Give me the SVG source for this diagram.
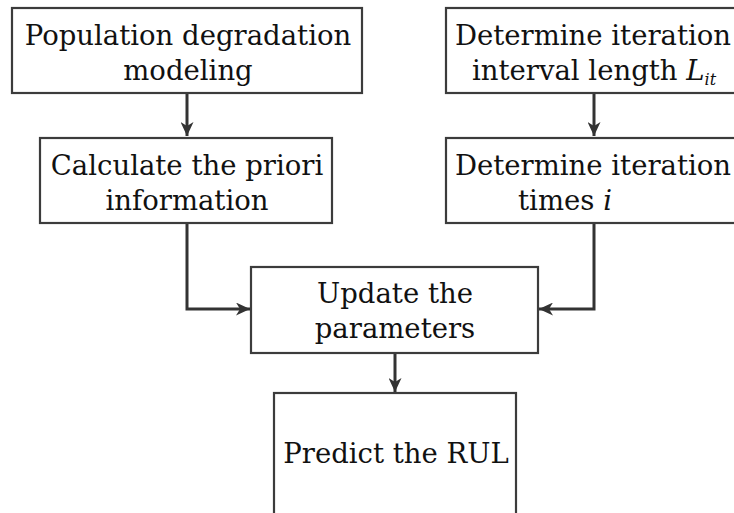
<svg xmlns="http://www.w3.org/2000/svg" width="734" height="513" viewBox="0 0 734 513">
  <style>
    .box { fill: #ffffff; stroke: #3c3c3c; stroke-width: 2.2; }
    .lbl { font-family: "DejaVu Serif", "Liberation Serif", serif; font-size: 27.5px; fill: #111111; text-anchor: middle; }
    .it { font-style: italic; }
    .sub { font-style: italic; font-size: 16px; }
    .wire { fill: none; stroke: #333333; stroke-width: 3; }
  </style>
  <defs>
    <marker id="arrow" markerUnits="userSpaceOnUse" markerWidth="15" markerHeight="13" refX="14" refY="6.5" orient="auto">
      <path d="M0,0 L14,6.5 L0,13 L4,6.5 Z" fill="#333333"/>
    </marker>
  </defs>
  <rect width="734" height="513" fill="#ffffff"/>

  <g id="connectors">
    <path class="wire" d="M187,93 V136" marker-end="url(#arrow)"/>
    <path class="wire" d="M594,93 V136" marker-end="url(#arrow)"/>
    <path class="wire" d="M187,223 V309 H250" marker-end="url(#arrow)"/>
    <path class="wire" d="M594,223 V309 H539" marker-end="url(#arrow)"/>
    <path class="wire" d="M395,353 V392" marker-end="url(#arrow)"/>
  </g>

  <g id="population-modeling">
    <rect class="box" x="12" y="8" width="350" height="85"/>
    <text class="lbl" x="188" y="45">Population degradation</text>
    <text class="lbl" x="188" y="80">modeling</text>
  </g>

  <g id="priori-information">
    <rect class="box" x="40" y="138" width="292" height="85"/>
    <text class="lbl" x="187" y="175">Calculate the priori</text>
    <text class="lbl" x="187" y="210">information</text>
  </g>

  <g id="interval-length">
    <rect class="box" x="446" y="8" width="300" height="85"/>
    <text class="lbl" x="593" y="45">Determine iteration</text>
    <text class="lbl" x="594" y="80">interval length <tspan class="it">L</tspan><tspan class="sub" dy="5">it</tspan></text>
  </g>

  <g id="iteration-times">
    <rect class="box" x="446" y="138" width="300" height="85"/>
    <text class="lbl" x="593" y="175">Determine iteration</text>
    <text class="lbl" x="565" y="210">times <tspan class="it">i</tspan></text>
  </g>

  <g id="update-parameters">
    <rect class="box" x="251" y="267" width="287" height="86"/>
    <text class="lbl" x="395" y="303">Update the</text>
    <text class="lbl" x="395" y="338">parameters</text>
  </g>

  <g id="predict-rul">
    <rect class="box" x="274" y="393" width="242" height="135"/>
    <text class="lbl" x="396" y="463">Predict the RUL</text>
  </g>
</svg>
